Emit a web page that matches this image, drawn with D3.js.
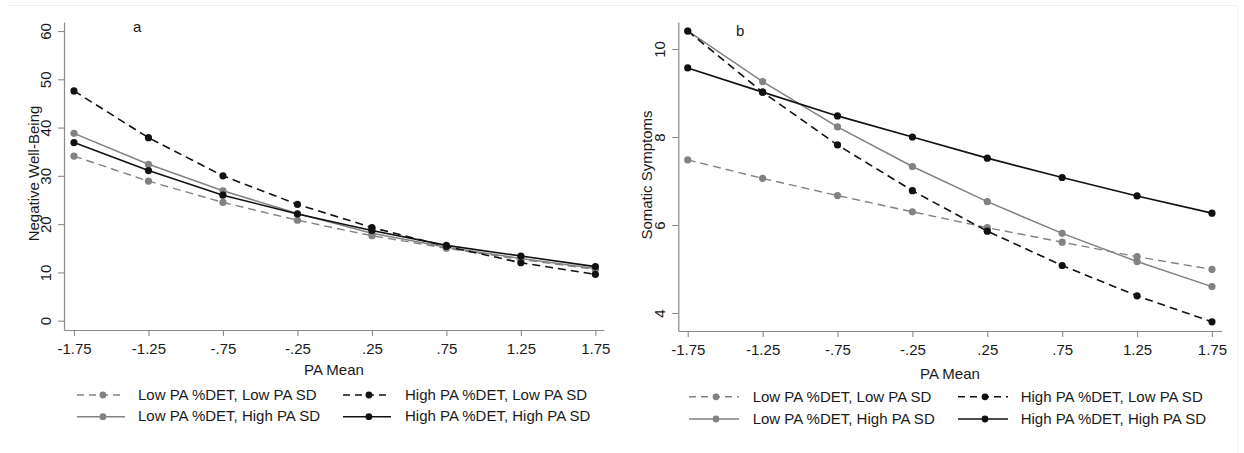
<!DOCTYPE html>
<html>
<head>
<meta charset="utf-8">
<script src="https://cdn.jsdelivr.net/npm/d3@7"></script>
<style>
  html, body { margin: 0; padding: 0; background: #fff; }
  svg { display: block; }
  text { font-family: "Liberation Sans", Arial, sans-serif; fill: #1a1a1a; }
</style>
</head>
<body>
<svg id="chart" width="1244" height="453"></svg>
<script>
// ---- data ----
const xValues = [-1.75, -1.25, -0.75, -0.25, 0.25, 0.75, 1.25, 1.75];
const xTickLabels = ["-1.75", "-1.25", "-.75", "-.25", ".25", ".75", "1.25", "1.75"];
const xTitle = "PA Mean";

const seriesNames = [
  "Low PA %DET, Low PA SD",
  "High PA %DET, Low PA SD",
  "Low PA %DET, High PA SD",
  "High PA %DET, High PA SD"
];

// Panel a: Negative Well-Being
const nwbLowDetLowSD   = [34.1, 28.9, 24.5, 20.8, 17.6, 15.0, 12.7, 10.6];
const nwbHighDetLowSD  = [47.6, 37.9, 30.0, 24.1, 19.3, 15.4, 12.0, 9.6];
const nwbLowDetHighSD  = [38.8, 32.4, 26.9, 22.2, 18.1, 15.2, 12.9, 10.8];
const nwbHighDetHighSD = [36.9, 31.1, 26.0, 22.1, 18.7, 15.6, 13.4, 11.2];
const nwbYTicks = [0, 10, 20, 30, 40, 50, 60];

// Panel b: Somatic Symptoms
const somLowDetLowSD   = [7.48, 7.06, 6.67, 6.30, 5.94, 5.61, 5.28, 4.99];
const somHighDetLowSD  = [10.41, 9.02, 7.82, 6.78, 5.86, 5.08, 4.39, 3.80];
const somLowDetHighSD  = [10.41, 9.26, 8.23, 7.33, 6.53, 5.81, 5.17, 4.60];
const somHighDetHighSD = [9.57, 9.02, 8.48, 8.00, 7.52, 7.08, 6.66, 6.27];
const somYTicks = [4, 6, 8, 10];

// ---- styles ----
const GRAY = "#828282";
const BLACK = "#111";
const AXIS = "#8a8a8a";
const seriesStyle = [
  { color: GRAY,  dash: "8,5", width: 1.4 },
  { color: BLACK, dash: "8,5", width: 1.6 },
  { color: GRAY,  dash: null,  width: 1.5 },
  { color: BLACK, dash: null,  width: 1.6 }
];

const svg = d3.select("#chart");

// faint figure border
svg.append("line").attr("x1", 7).attr("x2", 1237).attr("y1", 5.5).attr("y2", 5.5)
  .attr("stroke", "#efefef").attr("stroke-width", 1);
svg.append("line").attr("x1", 1237.5).attr("x2", 1237.5).attr("y1", 5).attr("y2", 453)
  .attr("stroke", "#f2f2f2").attr("stroke-width", 1);

const panels = [
  {
    letter: "a", letterX: 133, letterY: 32,
    yTitle: "Negative Well-Being",
    series: [nwbLowDetLowSD, nwbHighDetLowSD, nwbLowDetHighSD, nwbHighDetHighSD],
    yTicks: nwbYTicks,
    xRange: [64, 604], xDomain: [-1.817, 1.808],
    yRange: [330, 22], yDomain: [-1.93, 61.87],
    yLabelOff: -13, yTitleX: 39, yTitleY: 173.5,
    xLabelBase: 23.5, xTitleY: 375,
    legend: { rows: [395, 416.7], textRows: [399.5, 421], cols: [77, 343], textCols: [138, 405], symW: 48 }
  },
  {
    letter: "b", letterX: 736, letterY: 35.5,
    yTitle: "Somatic Symptoms",
    series: [somLowDetLowSD, somHighDetLowSD, somLowDetHighSD, somHighDetHighSD],
    yTicks: somYTicks,
    xRange: [678.3, 1221.7], xDomain: [-1.813, 1.815],
    yRange: [331, 22], yDomain: [3.591, 10.614],
    yLabelOff: -13.3, yTitleX: 651.5, yTitleY: 175,
    xLabelBase: 23.5, xTitleY: 379,
    legend: { rows: [396.8, 419], textRows: [401.5, 423.5], cols: [689, 958], textCols: [752.7, 1020.7], symW: 50 }
  }
];

panels.forEach(p => {
  const x = d3.scaleLinear().domain(p.xDomain).range(p.xRange);
  const y = d3.scaleLinear().domain(p.yDomain).range(p.yRange);
  const g = svg.append("g");

  // y axis
  const yAxis = d3.axisLeft(y).tickValues(p.yTicks).tickSize(6).tickSizeOuter(0)
    .tickFormat(d3.format("d"));
  const ya = g.append("g").attr("transform", `translate(${p.xRange[0]},0)`).call(yAxis);
  ya.select(".domain").attr("stroke", AXIS).attr("stroke-width", 1.2);
  ya.selectAll(".tick line").attr("stroke", AXIS).attr("stroke-width", 1.1);
  ya.selectAll(".tick text")
    .attr("transform", "rotate(-90)")
    .attr("x", 0).attr("y", p.yLabelOff).attr("dy", null)
    .attr("text-anchor", "middle")
    .style("font-family", "'Liberation Sans', Arial, sans-serif")
    .style("font-size", "15px").attr("fill", "#1a1a1a");

  // x axis
  const xAxis = d3.axisBottom(x).tickValues(xValues).tickSize(6).tickSizeOuter(0)
    .tickFormat((d, i) => xTickLabels[i]);
  const xa = g.append("g").attr("transform", `translate(0,${p.yRange[0]})`).call(xAxis);
  xa.select(".domain").attr("stroke", AXIS).attr("stroke-width", 1.2);
  xa.selectAll(".tick line").attr("stroke", AXIS).attr("stroke-width", 1.1);
  xa.selectAll(".tick text")
    .attr("y", p.xLabelBase).attr("dy", null)
    .style("font-family", "'Liberation Sans', Arial, sans-serif")
    .style("font-size", "15px").attr("fill", "#1a1a1a");

  // titles
  g.append("text")
    .attr("transform", `translate(${p.yTitleX},${p.yTitleY}) rotate(-90)`)
    .attr("text-anchor", "middle").style("font-size", "15px").text(p.yTitle);
  g.append("text")
    .attr("x", (p.xRange[0] + p.xRange[1]) / 2).attr("y", p.xTitleY)
    .attr("text-anchor", "middle").style("font-size", "15px").text(xTitle);
  g.append("text")
    .attr("x", p.letterX).attr("y", p.letterY)
    .style("font-size", "15px").text(p.letter);

  // series (draw gray first, then black on top)
  const line = d3.line().x((d, i) => x(xValues[i])).y(d => y(d));
  const order = [0, 2, 1, 3];
  order.forEach(si => {
    const st = seriesStyle[si];
    const data = p.series[si];
    g.append("path").datum(data)
      .attr("d", line)
      .attr("fill", "none")
      .attr("stroke", st.color)
      .attr("stroke-width", st.width)
      .attr("stroke-dasharray", st.dash);
    g.selectAll(null).data(data).enter().append("circle")
      .attr("cx", (d, i) => x(xValues[i]))
      .attr("cy", d => y(d))
      .attr("r", 3.6)
      .attr("fill", st.color);
  });

  // legend
  const L = p.legend;
  seriesNames.forEach((name, si) => {
    const col = si % 2, row = Math.floor(si / 2);
    const st = seriesStyle[si];
    const x0 = L.cols[col], yy = L.rows[row];
    g.append("line")
      .attr("x1", x0).attr("x2", x0 + L.symW).attr("y1", yy).attr("y2", yy)
      .attr("stroke", st.color).attr("stroke-width", st.width)
      .attr("stroke-dasharray", st.dash ? "7,5" : null);
    g.append("circle")
      .attr("cx", x0 + L.symW * 0.54).attr("cy", yy).attr("r", 3.4)
      .attr("fill", st.color);
    g.append("text")
      .attr("x", L.textCols[col]).attr("y", L.textRows[row])
      .style("font-size", "15px").text(name);
  });
});
</script>
</body>
</html>
